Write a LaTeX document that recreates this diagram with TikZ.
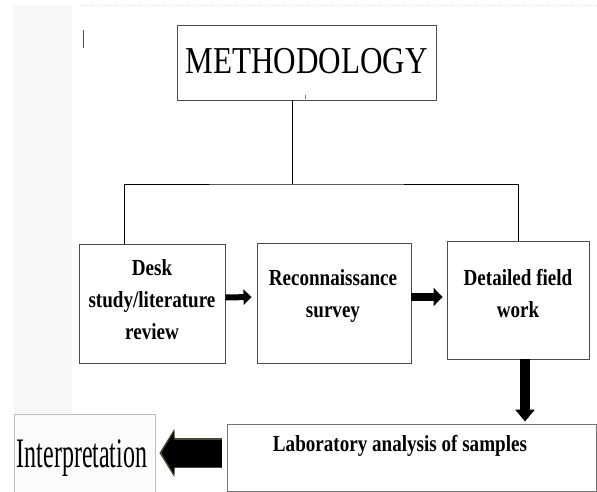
\documentclass[tikz,border=0pt]{standalone}
\usepackage{fontspec}
\setmainfont{Liberation Serif}
\usepackage{graphicx}
\usetikzlibrary{arrows.meta}

\begin{document}
\begin{tikzpicture}[x=1pt, y=-1pt,
    stepbox/.style={draw=black!70, line width=0.9pt, inner sep=0pt},
    steptext/.style={align=center, xscale=0.83, font=\fontsize{23}{32}\selectfont\bfseries},
    fat/.style={black, line width=#1}]
    \useasboundingbox (0,0) rectangle (597,492);

    \def\xdrop{124};
    \def\yhub{184};

% strip on the left
    \fill[gray!6] (14,5) rectangle (72,414);
    \draw[gray!25, dotted] (80,5) -- (597,5);
    \draw[black!70, line width=1pt] (83,30) -- (83,48);

% methodology
    \node[stepbox, minimum width=259pt, minimum height=75pt] (meth) at (306.5,62.5) {};
    \node[font=\fontsize{38}{40}\selectfont] (methtxt) at (306.5,61) {\scalebox{0.82}[1]{METHODOLOGY}};
    \draw[blue!60] (305,95) -- (305,99);

% three steps
    \node[stepbox, minimum width=146pt, minimum height=119pt] (desk) at (152,303.5) {};
    \node[stepbox, minimum width=154pt, minimum height=120pt] (recon) at (334,303) {};
    \node[stepbox, minimum width=142pt, minimum height=118pt] (detail) at (518,300) {};
    \node[steptext] (desktxt) at (152,300) {Desk\\study/literature\\review};
    \node[steptext] (recontxt) at (333,296) {Reconnaissance\\survey};
    \node[steptext] (detailtxt) at (518,294) {Detailed field\\work};

% tree lines
    \coordinate (hub) at (292,\yhub);
    \coordinate (drop) at (\xdrop,\yhub);
    \draw[line width=1pt] (meth.south -| hub) -- (hub);
    \draw[line width=1pt] (drop |- desk.north) -- (drop) -- (hub) -| (detail.north);

% lab and interpretation
    \node[stepbox, draw=black!55, minimum width=369pt, minimum height=67pt] (lab) at (411.5,457.5) {};
    \node[steptext] (labtxt) at (400,446) {Laboratory analysis of samples};
    \node[stepbox, draw=gray!50, fill=blue!2!gray!3, minimum width=141pt, minimum height=78pt] (interp) at (84.5,453) {};
    \node[font=\fontsize{42}{44}\selectfont, anchor=base] (interptxt) at (82,467) {\scalebox{0.57}[1]{Interpretation}};

% arrows
    \draw[fat=6pt, -{Triangle[length=8pt, width=15pt]}] ([yshift=6pt]desk.east) -- ([yshift=6pt, xshift=-5pt]recon.west);
    \draw[fat=8pt, -{Triangle[length=9pt, width=18pt]}] ([yshift=6pt]recon.east) -- ([yshift=3pt, xshift=-4pt]detail.west);
    \draw[fat=10pt, -{Triangle[length=12pt, width=19pt]}, shorten >=2pt] ([xshift=7pt]detail.south) -- ([xshift=7pt]detail.south |- lab.north);

    \draw[line width=30pt, olive!40!black, -{Triangle[length=15pt, width=48pt]}, shorten <=5pt, shorten >=4pt] ([yshift=4.5pt]lab.west) -- ([yshift=4.5pt]lab.west -| interp.east);
    \draw[fat=27pt, -{Triangle[length=13pt, width=43pt]}, shorten <=5pt, shorten >=6pt] ([yshift=4.5pt]lab.west) -- ([yshift=4.5pt]lab.west -| interp.east);

\end{tikzpicture}
\end{document}
